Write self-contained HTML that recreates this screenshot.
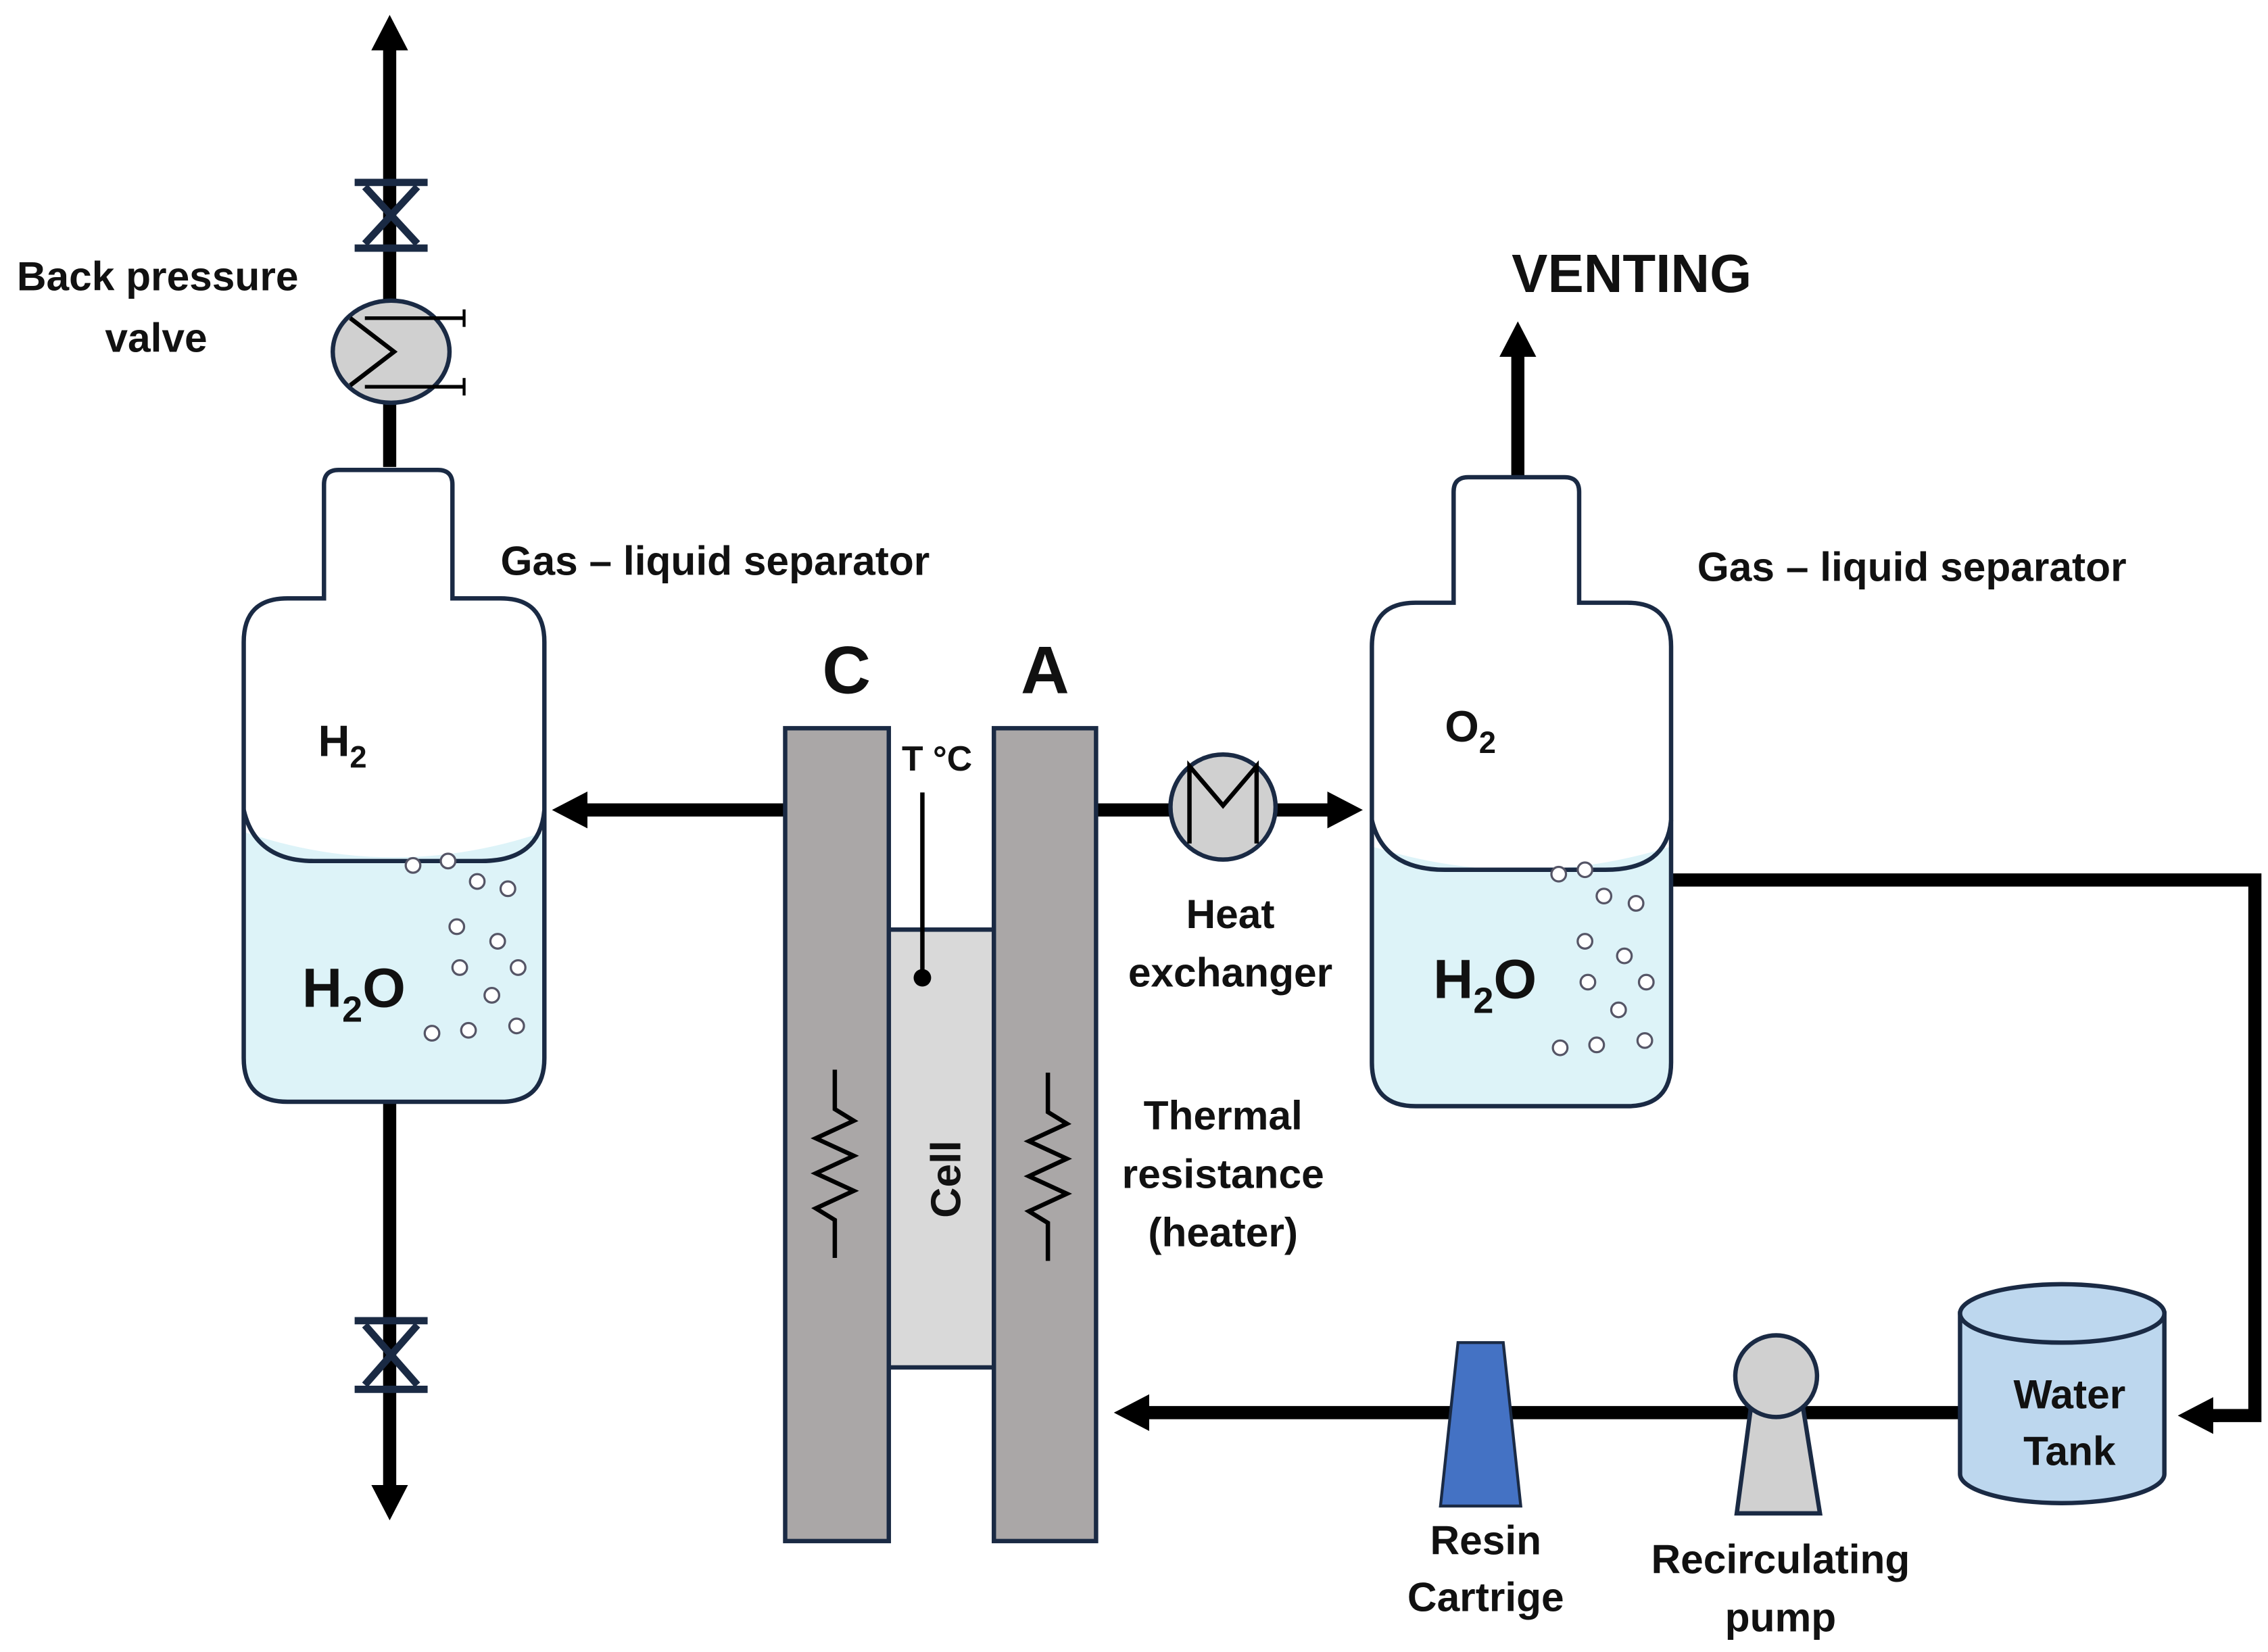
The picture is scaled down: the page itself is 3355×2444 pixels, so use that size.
<!DOCTYPE html>
<html><head><meta charset="utf-8"><style>html,body{margin:0;padding:0;background:#fff}svg{display:block}text{font-family:"Liberation Sans",sans-serif;fill:#111}</style></head><body>
<svg width="3355" height="2444" viewBox="0 0 1554 1132" xmlns="http://www.w3.org/2000/svg">
<defs>
<marker id="ah" markerWidth="2.7" markerHeight="2.8" refX="0.5" refY="1.4" orient="auto" markerUnits="strokeWidth"><path d="M0,0 L2.7,1.4 L0,2.8 Z" fill="#000"/></marker>
</defs>
<g stroke="#000" stroke-width="9" fill="none">
<line x1="267" y1="320" x2="267" y2="30" marker-end="url(#ah)"/>
<line x1="267" y1="755" x2="267" y2="1022" marker-end="url(#ah)"/>
<line x1="538" y1="555" x2="398" y2="555" marker-end="url(#ah)"/>
<line x1="751" y1="555" x2="805" y2="555"/>
<line x1="872" y1="555" x2="914" y2="555" marker-end="url(#ah)"/>
<line x1="1040" y1="327" x2="1040" y2="240" marker-end="url(#ah)"/>
<polyline points="1145,603 1545,603 1545,970 1515,970" />
<line x1="1520" y1="970" x2="1512" y2="970" marker-end="url(#ah)"/>
<line x1="1343" y1="968" x2="783" y2="968" marker-end="url(#ah)"/>
</g>
<g stroke="#1a2a44" stroke-width="5" fill="none">
<line x1="243" y1="125" x2="293" y2="125"/><line x1="243" y1="170" x2="293" y2="170"/>
<line x1="250" y1="128" x2="286" y2="167"/><line x1="286" y1="128" x2="250" y2="167"/>
<line x1="243" y1="905" x2="293" y2="905"/><line x1="243" y1="952" x2="293" y2="952"/>
<line x1="250" y1="908" x2="286" y2="949"/><line x1="286" y1="908" x2="250" y2="949"/>
</g>
<ellipse cx="268" cy="241" rx="40" ry="35" fill="#d0d0d0" stroke="#1a2a44" stroke-width="3"/>
<polyline points="240,218 270,241 240,264" fill="none" stroke="#000" stroke-width="3"/>
<line x1="250" y1="218" x2="318" y2="218" stroke="#000" stroke-width="2.5"/>
<line x1="250" y1="265" x2="318" y2="265" stroke="#000" stroke-width="2.5"/>
<line x1="318" y1="212" x2="318" y2="224" stroke="#000" stroke-width="2"/>
<line x1="318" y1="259" x2="318" y2="271" stroke="#000" stroke-width="2"/>
<text x="108" y="199" font-size="28" font-weight="bold" text-anchor="middle">Back pressure</text>
<text x="107" y="241" font-size="28" font-weight="bold" text-anchor="middle">valve</text>
<path d="M167,570 Q270,605 373,570 L373,725 Q373,755 343,755 L197,755 Q167,755 167,725 Z" fill="#ddf3f8"/>
<path d="M232,322 L300,322 Q310,322 310,332 L310,410 L343,410 Q373,410 373,440 L373,725 Q373,755 343,755 L197,755 Q167,755 167,725 L167,440 Q167,410 197,410 L222,410 L222,332 Q222,322 232,322 Z" fill="none" stroke="#1a2a44" stroke-width="3"/>
<path d="M167,555 Q175,590 215,590 L330,590 Q370,590 373,555" fill="none" stroke="#1a2a44" stroke-width="3"/>
<text x="218" y="518" font-size="30" font-weight="bold">H<tspan font-size="21" dy="8">2</tspan></text>
<text x="207" y="690" font-size="38" font-weight="bold">H<tspan font-size="25" dy="10">2</tspan><tspan dy="-10">O</tspan></text>
<g fill="#fff" stroke="#556" stroke-width="1.5">
<circle cx="283" cy="593" r="5"/><circle cx="307" cy="590" r="5"/><circle cx="327" cy="604" r="5"/><circle cx="348" cy="609" r="5"/>
<circle cx="313" cy="635" r="5"/><circle cx="341" cy="645" r="5"/><circle cx="315" cy="663" r="5"/><circle cx="355" cy="663" r="5"/>
<circle cx="337" cy="682" r="5"/><circle cx="296" cy="708" r="5"/><circle cx="321" cy="706" r="5"/><circle cx="354" cy="703" r="5"/>
</g>
<text x="490" y="394" font-size="28" font-weight="bold" text-anchor="middle">Gas – liquid separator</text>
<path d="M940,580 Q1042,612 1145,580 L1145,728 Q1145,758 1115,758 L970,758 Q940,758 940,728 Z" fill="#ddf3f8"/>
<path d="M1006,327 L1072,327 Q1082,327 1082,337 L1082,413 L1115,413 Q1145,413 1145,443 L1145,728 Q1145,758 1115,758 L970,758 Q940,758 940,728 L940,443 Q940,413 970,413 L996,413 L996,337 Q996,327 1006,327 Z" fill="none" stroke="#1a2a44" stroke-width="3"/>
<path d="M940,562 Q948,596 990,596 L1100,596 Q1142,596 1145,562" fill="none" stroke="#1a2a44" stroke-width="3"/>
<text x="990" y="508" font-size="30" font-weight="bold">O<tspan font-size="21" dy="8">2</tspan></text>
<text x="982" y="684" font-size="38" font-weight="bold">H<tspan font-size="25" dy="10">2</tspan><tspan dy="-10">O</tspan></text>
<g fill="#fff" stroke="#556" stroke-width="1.5">
<circle cx="1068" cy="599" r="5"/><circle cx="1086" cy="596" r="5"/><circle cx="1099" cy="614" r="5"/><circle cx="1121" cy="619" r="5"/>
<circle cx="1086" cy="645" r="5"/><circle cx="1113" cy="655" r="5"/><circle cx="1088" cy="673" r="5"/><circle cx="1128" cy="673" r="5"/>
<circle cx="1109" cy="692" r="5"/><circle cx="1069" cy="718" r="5"/><circle cx="1094" cy="716" r="5"/><circle cx="1127" cy="713" r="5"/>
</g>
<text x="1310" y="398" font-size="28" font-weight="bold" text-anchor="middle">Gas – liquid separator</text>
<text x="1118" y="200" font-size="37" font-weight="bold" text-anchor="middle">VENTING</text>
<rect x="609" y="637" width="72" height="300" fill="#d9d9d9" stroke="#1a2a44" stroke-width="3"/>
<rect x="538" y="499" width="71" height="557" fill="#aaa7a7" stroke="#1a2a44" stroke-width="3"/>
<rect x="681" y="499" width="70" height="557" fill="#aaa7a7" stroke="#1a2a44" stroke-width="3"/>
<text x="580" y="475" font-size="46" font-weight="bold" text-anchor="middle">C</text>
<text x="716" y="475" font-size="46" font-weight="bold" text-anchor="middle">A</text>
<text x="642" y="528" font-size="24" font-weight="bold" text-anchor="middle">T °C</text>
<line x1="632" y1="543" x2="632" y2="668" stroke="#000" stroke-width="3"/>
<circle cx="632" cy="670" r="6" fill="#000"/>
<text transform="translate(658,808) rotate(-90)" font-size="29" font-weight="bold" text-anchor="middle">Cell</text>
<g fill="none" stroke="#000" stroke-width="3">
<polyline points="572,733 572,760 585,768 559,780 585,792 559,804 585,816 559,828 572,836 572,862"/>
<polyline points="718,735 718,762 731,770 705,782 731,794 705,806 731,818 705,830 718,838 718,864"/>
</g>
<text x="838" y="774" font-size="28" font-weight="bold" text-anchor="middle">Thermal</text>
<text x="838" y="814" font-size="28" font-weight="bold" text-anchor="middle">resistance</text>
<text x="838" y="854" font-size="28" font-weight="bold" text-anchor="middle">(heater)</text>
<circle cx="838" cy="553" r="36" fill="#d0d0d0" stroke="#1a2a44" stroke-width="3"/>
<polyline points="815,578 815,525 838,552 861,525 861,578" fill="none" stroke="#000" stroke-width="3"/>
<text x="843" y="636" font-size="28" font-weight="bold" text-anchor="middle">Heat</text>
<text x="843" y="676" font-size="28" font-weight="bold" text-anchor="middle">exchanger</text>
<path d="M1343,900 L1343,1010 A70,20 0 0 0 1483,1010 L1483,900 Z" fill="#bdd7ee" stroke="#1a2a44" stroke-width="3"/>
<ellipse cx="1413" cy="900" rx="70" ry="20" fill="#bdd7ee" stroke="#1a2a44" stroke-width="3"/>
<text x="1418" y="965" font-size="28" font-weight="bold" text-anchor="middle">Water</text>
<text x="1418" y="1004" font-size="28" font-weight="bold" text-anchor="middle">Tank</text>
<path d="M1200,962 L1235,962 L1247,1037 L1190,1037 Z" fill="#d0d0d0" stroke="#1a2a44" stroke-width="3"/>
<circle cx="1217" cy="943" r="28" fill="#d0d0d0" stroke="#1a2a44" stroke-width="3"/>
<text x="1220" y="1078" font-size="28" font-weight="bold" text-anchor="middle">Recirculating</text>
<text x="1220" y="1118" font-size="28" font-weight="bold" text-anchor="middle">pump</text>
<path d="M999,920 L1030,920 L1042,1032 L987,1032 Z" fill="#4472c4" stroke="#1a2a44" stroke-width="2"/>
<text x="1018" y="1065" font-size="28" font-weight="bold" text-anchor="middle">Resin</text>
<text x="1018" y="1104" font-size="28" font-weight="bold" text-anchor="middle">Cartrige</text>
</svg>
</body></html>
